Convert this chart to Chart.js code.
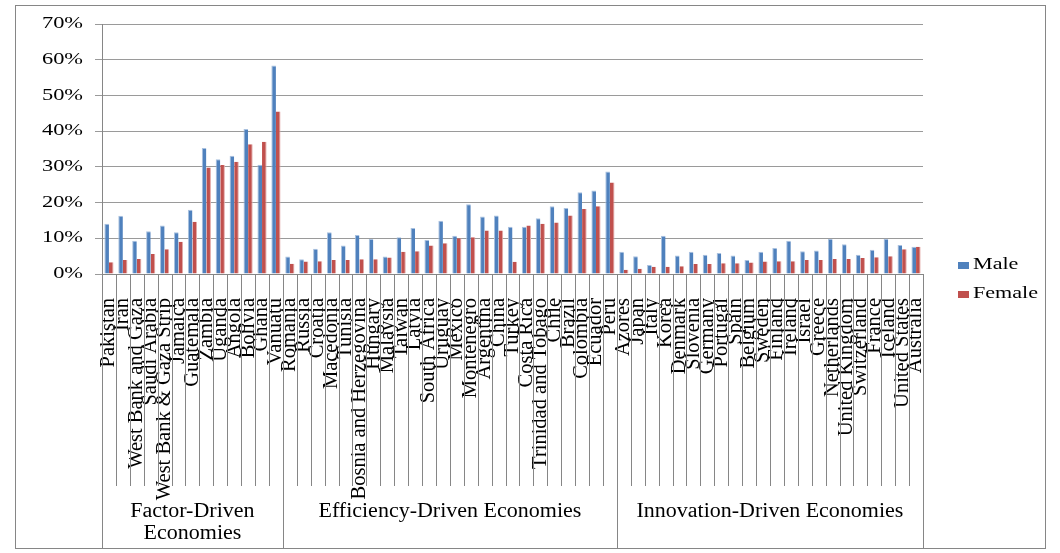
<!DOCTYPE html>
<html>
<head>
<meta charset="utf-8">
<title>Early-stage entrepreneurial activity by gender</title>
<script src="https://cdn.jsdelivr.net/npm/chart.js@4.4.1/dist/chart.umd.min.js"></script>
<style>
  html, body { margin: 0; padding: 0; background: #fff; }
  canvas { display: block; }
</style>
</head>
<body>
<canvas id="tea_chart" width="1060" height="553"></canvas>
<script>
// Countries grouped by economy type
const factorDriven = ["Pakistan", "Iran", "West Bank and Gaza", "Saudi Arabia", "West Bank & Gaza Strip",
  "Jamaica", "Guatemala", "Zambia", "Uganda", "Angola", "Bolivia", "Ghana", "Vanuatu"];
const efficiencyDriven = ["Romania", "Russia", "Croatia", "Macedonia", "Tunisia", "Bosnia and Herzegovina",
  "Hungary", "Malaysia", "Taiwan", "Latvia", "South Africa", "Uruguay", "Mexico", "Montenegro", "Argentina",
  "China", "Turkey", "Costa Rica", "Trinidad and Tobago", "Chile", "Brazil", "Colombia", "Ecuador", "Peru"];
const innovationDriven = ["Azores", "Japan", "Italy", "Korea", "Denmark", "Slovenia", "Germany", "Portugal",
  "Spain", "Belgium", "Sweden", "Finland", "Ireland", "Israel", "Greece", "Netherlands", "United Kingdom",
  "Switzerland", "France", "Iceland", "United States", "Australia"];
const groupNames = [["Factor-Driven", "Economies"], ["Efficiency-Driven Economies"], ["Innovation-Driven Economies"]];

// Rates in percent, same order as the countries above
const maleRates = [
  14.1, 16.3, 9.3, 12.0, 13.6, 11.7, 18.0, 35.3, 32.1, 33.1, 40.6, 30.6, 58.4,
  4.9, 4.1, 7.1, 11.7, 8.0, 10.9, 9.8, 4.9, 10.3, 12.9, 9.5, 14.9, 10.7, 19.5, 16.1, 16.4, 13.2, 13.2, 15.6, 19.0, 18.5, 22.9, 23.4, 28.7,
  6.2, 5.0, 2.5, 10.7, 5.2, 6.2, 5.4, 5.9, 5.2, 3.9, 6.2, 7.3, 9.3, 6.4, 6.6, 9.9, 8.3, 5.4, 6.8, 9.9, 8.1, 7.6
];
const femaleRates = [
  3.3, 3.9, 4.2, 5.6, 6.9, 9.0, 14.6, 29.8, 30.5, 31.4, 36.3, 37.0, 45.5,
  2.9, 3.5, 3.6, 3.9, 3.9, 4.1, 4.1, 4.6, 6.2, 6.4, 8.0, 8.6, 10.0, 10.3, 12.2, 12.2, 3.4, 13.6, 14.1, 14.4, 16.4, 18.2, 19.0, 25.6,
  1.2, 1.5, 2.0, 2.0, 2.2, 2.8, 2.8, 3.0, 3.0, 3.2, 3.5, 3.6, 3.6, 3.9, 3.9, 4.2, 4.2, 4.5, 4.7, 5.0, 6.9, 7.6
];
const yMax = 70;
const yStep = 10;

const countries = factorDriven.concat(efficiencyDriven, innovationDriven);
const groupSizes = [factorDriven.length, efficiencyDriven.length, innovationDriven.length];
const serif = "'Liberation Serif', 'Times New Roman', serif";
const lineGray = "#868686";

// Draws the frame, y labels, the two-level category dividers, group names and legend
const economyAxis = {
  id: "economyAxis",
  afterDraw(chart) {
    const { ctx, scales: { x, y } } = chart;
    const step = x.width / countries.length;
    ctx.save();

    // outer frame
    ctx.strokeStyle = lineGray;
    ctx.lineWidth = 1;
    ctx.strokeRect(15.5, 5.5, 1030, 543);

    // percentage labels, a bit wide like the original
    ctx.fillStyle = "#000";
    ctx.font = "16px " + serif;
    ctx.textAlign = "right";
    ctx.textBaseline = "middle";
    y.ticks.forEach((t) => {
      ctx.save();
      ctx.translate(y.right - 19, y.getPixelForValue(t.value));
      ctx.scale(1.4, 1);
      ctx.fillText(t.value + "%", 0, 0);
      ctx.restore();
    });

    // dividers between countries, longer ones between groups
    const edges = [0];
    groupSizes.forEach((n) => edges.push(edges[edges.length - 1] + n));
    for (let i = 0; i <= countries.length; i++) {
      const px = Math.round(x.getPixelForValue(i) - step / 2) + 0.5;
      ctx.beginPath();
      ctx.moveTo(px, y.bottom);
      ctx.lineTo(px, edges.includes(i) ? 548 : 486);
      ctx.stroke();
    }

    // group names
    ctx.textAlign = "center";
    ctx.font = "20px " + serif;
    groupNames.forEach((lines, g) => {
      const cx = (x.getPixelForValue(edges[g]) + x.getPixelForValue(edges[g + 1] - 1)) / 2;
      lines.forEach((txt, k) => {
        ctx.save();
        ctx.translate(cx, 512 + k * 22);
        ctx.scale(1.1, 1);
        ctx.fillText(txt, 0, 0);
        ctx.restore();
      });
    });

    // legend
    ctx.textAlign = "left";
    ctx.font = "17px " + serif;
    chart.data.datasets.forEach((ds, i) => {
      const ly = 265 + i * 29;
      ctx.fillStyle = ds.backgroundColor;
      ctx.fillRect(958, ly - 3, 11, 7);
      ctx.fillStyle = "#000";
      ctx.save();
      ctx.translate(973, ly);
      ctx.scale(1.3, 1);
      ctx.fillText(ds.label, 0, 0);
      ctx.restore();
    });
    ctx.restore();
  }
};

const ctx = document.getElementById("tea_chart").getContext("2d");
new Chart(ctx, {
  type: "bar",
  data: {
    labels: countries,
    datasets: [
      {
        label: "Male",
        data: maleRates,
        backgroundColor: "#4F81BD",
        borderColor: "#A9C1DF",
        borderWidth: { left: 1, top: 1, right: 0, bottom: 0 }
      },
      {
        label: "Female",
        data: femaleRates,
        backgroundColor: "#C0504D",
        borderColor: "#E3AAA8",
        borderWidth: { left: 0, top: 0, right: 1, bottom: 0 }
      }
    ]
  },
  options: {
    responsive: false,
    animation: false,
    layout: { padding: { top: 24, right: 137, left: 0, bottom: 0 } },
    datasets: { bar: { categoryPercentage: 0.66, barPercentage: 1 } },
    plugins: {
      legend: { display: false },
      tooltip: { enabled: false }
    },
    scales: {
      x: {
        grid: { display: false },
        border: { color: lineGray },
        ticks: {
          autoSkip: false,
          minRotation: 90,
          maxRotation: 90,
          padding: 16,
          color: "#000",
          font: { family: serif, size: 20.5 }
        },
        afterFit: (scale) => { scale.height = 279; }
      },
      y: {
        min: 0,
        max: yMax,
        grid: { color: "#9a9a9a", tickLength: 7 },
        border: { color: lineGray },
        ticks: { stepSize: yStep, display: false },
        afterFit: (scale) => { scale.width = 102; }
      }
    }
  },
  plugins: [economyAxis]
});
</script>
</body>
</html>
